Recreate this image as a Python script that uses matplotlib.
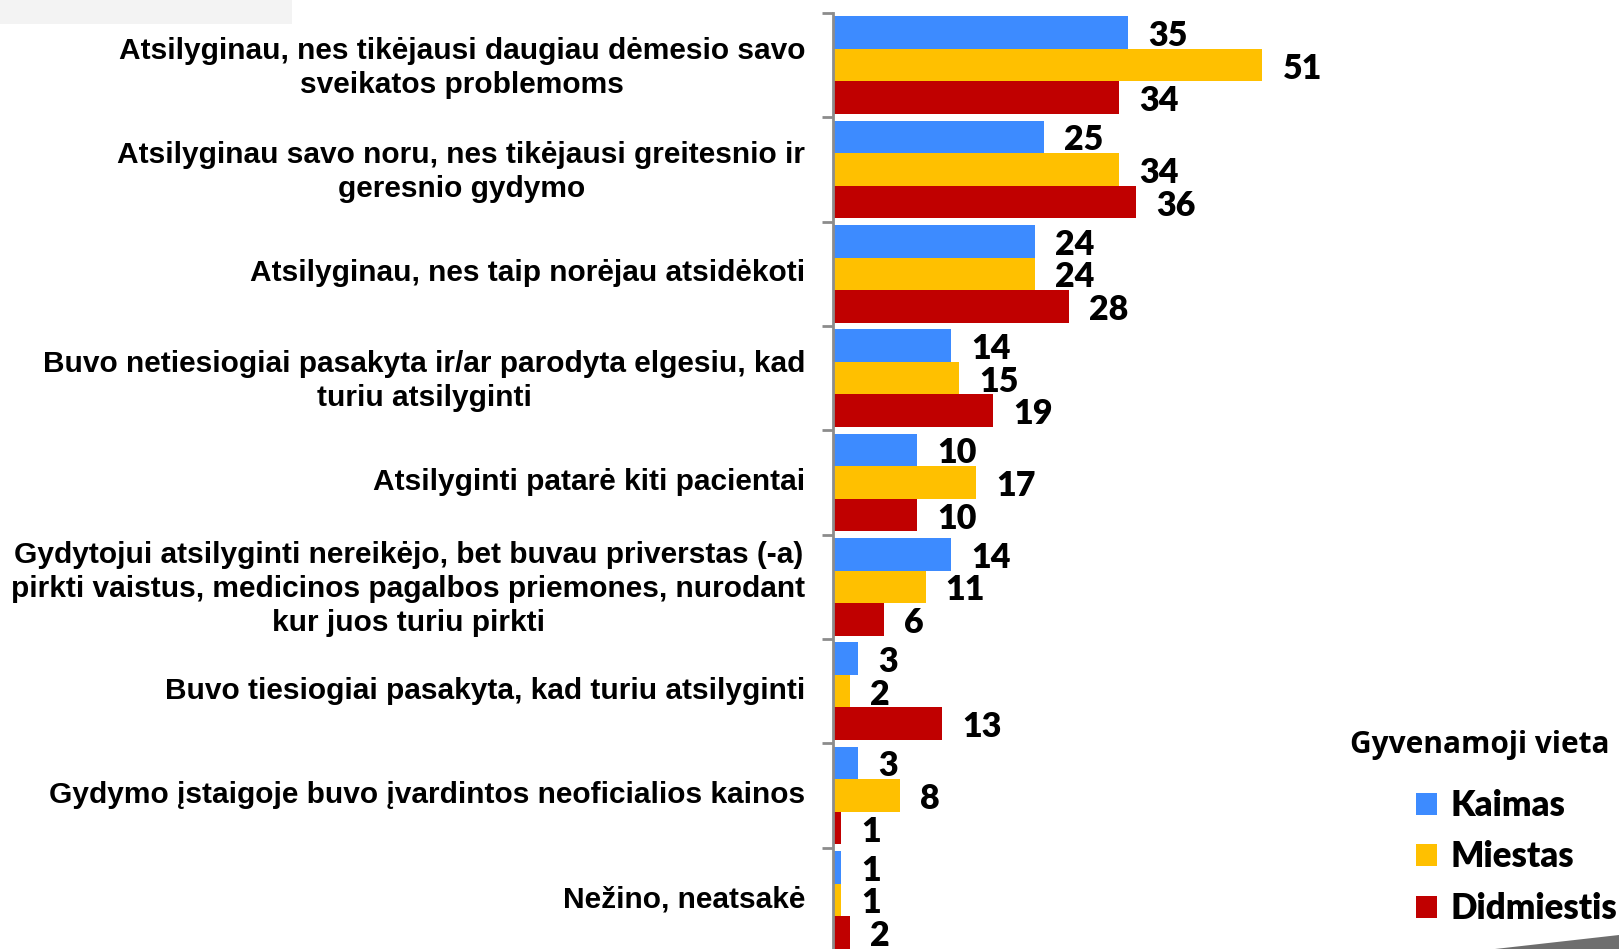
import matplotlib
matplotlib.use("Agg")
import matplotlib.pyplot as plt
from matplotlib.patches import Rectangle, Polygon
import numpy as np

categories = [
    "Atsilyginau, nes tikėjausi daugiau dėmesio savo\nsveikatos problemoms",
    "Atsilyginau savo noru, nes tikėjausi greitesnio ir\ngeresnio gydymo",
    "Atsilyginau, nes taip norėjau atsidėkoti",
    "Buvo netiesiogiai pasakyta ir/ar parodyta elgesiu, kad\nturiu atsilyginti",
    "Atsilyginti patarė kiti pacientai",
    "Gydytojui atsilyginti nereikėjo, bet buvau priverstas (-a)\npirkti vaistus, medicinos pagalbos priemones, nurodant\nkur juos turiu pirkti",
    "Buvo tiesiogiai pasakyta, kad turiu atsilyginti",
    "Gydymo įstaigoje buvo įvardintos neoficialios kainos",
    "Nežino, neatsakė",
]
kaimas = [35, 25, 24, 14, 10, 14, 3, 3, 1]
miestas = [51, 34, 24, 15, 17, 11, 2, 8, 1]
didmiestis = [34, 36, 28, 19, 10, 6, 13, 1, 2]
series_names = ["Kaimas", "Miestas", "Didmiestis"]
legend_title = "Gyvenamoji vieta"

colors = ["#3d8bff", "#ffc000", "#c00000"]

W, H = 1619, 949
fig = plt.figure(figsize=(W / 100, H / 100), dpi=100)

ax_left = 833 / W
ax_right = (833 + 55 * 8.42) / W
ax_top = 1 - 13 / H
ax_bottom = 1 - 952 / H
ax = fig.add_axes([ax_left, ax_bottom, ax_right - ax_left, ax_top - ax_bottom])

n = len(categories)
y = np.arange(n)
h = 0.313
series = [kaimas, miestas, didmiestis]
containers = []
for k, (vals, c) in enumerate(zip(series, colors)):
    ypos = y + (k - 1) * h
    bc = ax.barh(ypos, vals, height=h, color=c, label=series_names[k])
    containers.append(bc)
    for yy, v in zip(ypos, vals):
        ax.annotate(str(v), xy=(v, yy), xytext=(14.5, -2.5), textcoords="offset points",
                    ha="left", va="center", fontsize=24.5, fontweight="heavy",
                    family="Lato", color="black")

ax.set_xlim(0, 55)
ax.set_ylim(n - 0.5, -0.5)

for s in ["top", "right", "bottom"]:
    ax.spines[s].set_visible(False)
ax.spines["left"].set_color("#8c8c8c")
ax.spines["left"].set_linewidth(2)
ax.xaxis.set_visible(False)

ax.set_yticks(np.arange(-0.5, n, 1.0))
ax.set_yticklabels([])
ax.tick_params(axis="y", which="major", length=8, width=2, color="#8c8c8c", direction="out")
ax.set_yticks(y - 0.035, minor=True)
ax.set_yticklabels(categories, minor=True, fontsize=21.5, fontweight="bold",
                   family="Liberation Sans", multialignment="center", linespacing=1.28)
ax.tick_params(axis="y", which="minor", length=0, pad=20)

# decorative elements
fig.patches.append(Rectangle((0, 1 - 24 / H), 292 / W, 24 / H, transform=fig.transFigure,
                             facecolor="#f3f3f3", edgecolor="none", zorder=0))
fig.patches.append(Polygon([(1495 / W, 0), (1.0, 14 / H), (1.0, 0)], closed=True,
                           transform=fig.transFigure, facecolor="#6e6e6e",
                           edgecolor="none", zorder=0))

fig.text(1350 / W, 1 - 745 / H, legend_title, fontsize=21.5, fontweight="bold",
         family="Open Sans", va="center", ha="left")
leg = fig.legend(handles=containers, labels=series_names, loc="upper left",
                 bbox_to_anchor=(1416 / W, 1 - 789 / H), frameon=False,
                 prop={"family": "Lato", "weight": "heavy", "size": 25},
                 handlelength=0.6, handleheight=0.6, handletextpad=0.38,
                 labelspacing=0.53, borderpad=0, borderaxespad=0)

fig.savefig("out.png", dpi=100)
